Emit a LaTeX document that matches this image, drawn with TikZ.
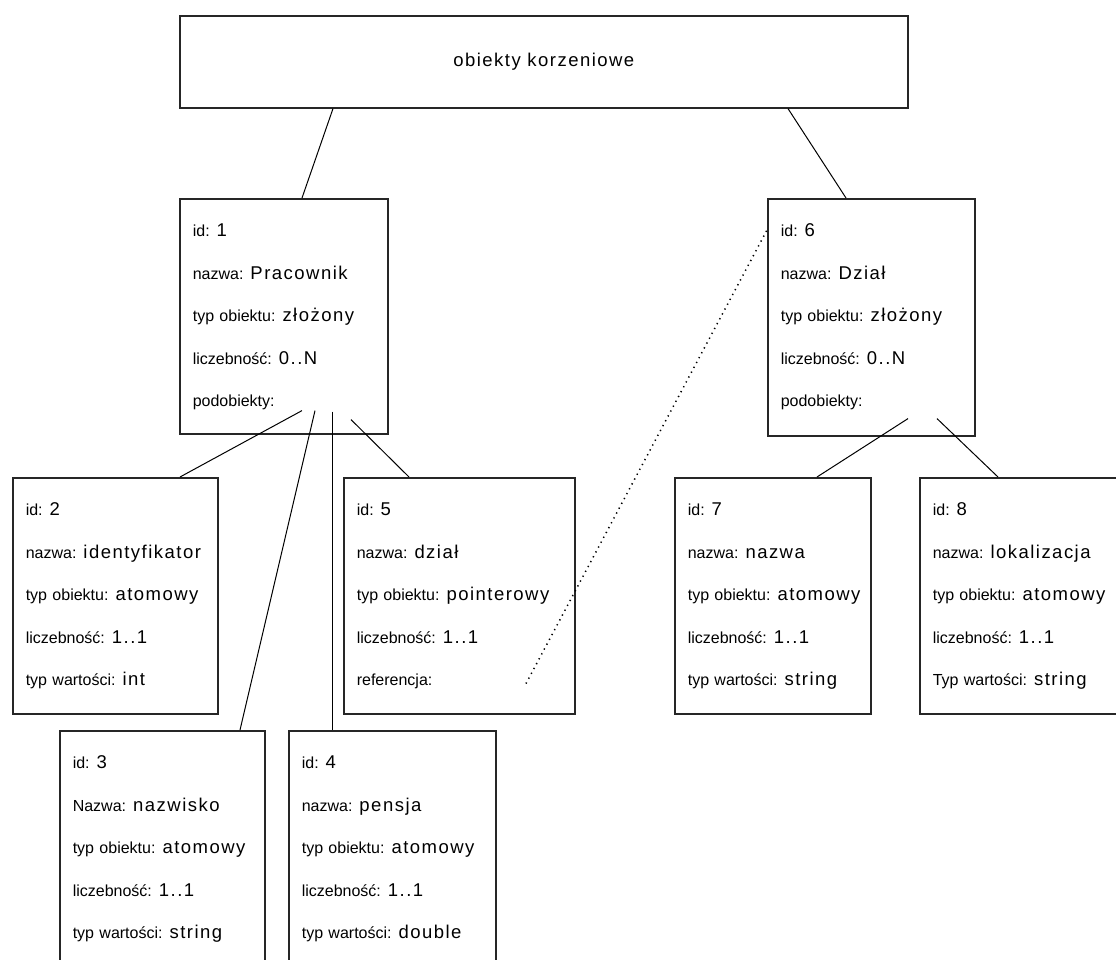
\documentclass[tikz,border=0pt]{standalone}
\usepackage{fontspec}
\setmainfont{Liberation Sans}
\newfontfamily\lblfamily{Liberation Sans}
\newfontfamily\valfamily[LetterSpace=8]{Liberation Sans}
\usetikzlibrary{calc}

\newcommand{\labfont}{\lblfamily\fontsize{16}{42.5}\selectfont}
\newcommand{\valfont}{\valfamily\fontsize{18.5}{42.5}\selectfont}
\newcommand{\field}[2]{\mbox{#1\hspace{7pt}{\valfont #2}}}
\newcommand{\toprow}{\rule{0pt}{38pt}}
\newcommand{\lastrow}[1]{\rule[-#1pt]{0pt}{#1pt}}

\begin{document}
\begin{tikzpicture}[
    x=1pt, y=-1pt,
    obj/.style={draw=black!85, line width=1.6pt, anchor=north west, align=left, inner xsep=13pt, inner ysep=0pt, font=\labfont, text width=#1},
    rootbox/.style={draw=black!85, line width=1.6pt, anchor=north west, minimum width=728pt, minimum height=92pt, font=\valfont},
    link/.style={line width=1pt},
    ref/.style={line width=1.5pt, dash pattern=on 1.3pt off 4.2pt}
]
\fill[white] (0,0) rectangle (1116,960);
\useasboundingbox (0,0) rectangle (1116,960);

% Nodes
\node[rootbox] (root) at (179,15) {obiekty korzeniowe};
\node[obj=182pt] (prac) at (179,198) {\toprow\field{id:}{1}\\ \field{nazwa:}{Pracownik}\\ \field{typ obiektu:}{złożony}\\ \field{liczebność:}{0..N}\\ podobiekty:\lastrow{27}};
\node[obj=181pt] (dzial) at (767,198) {\toprow\field{id:}{6}\\ \field{nazwa:}{Dział}\\ \field{typ obiektu:}{złożony}\\ \field{liczebność:}{0..N}\\ podobiekty:\lastrow{29}};
\node[obj=179pt] (ident) at (12,477) {\toprow\field{id:}{2}\\ \field{nazwa:}{identyfikator}\\ \field{typ obiektu:}{atomowy}\\ \field{liczebność:}{1..1}\\ \field{typ wartości:}{int}\lastrow{28}};
\node[obj=179pt] (nazwisko) at (59,730) {\toprow\field{id:}{3}\\ \field{Nazwa:}{nazwisko}\\ \field{typ obiektu:}{atomowy}\\ \field{liczebność:}{1..1}\\ \field{typ wartości:}{string}\lastrow{52}};
\node[obj=181pt] (pensja) at (288,730) {\toprow\field{id:}{4}\\ \field{nazwa:}{pensja}\\ \field{typ obiektu:}{atomowy}\\ \field{liczebność:}{1..1}\\ \field{typ wartości:}{double}\lastrow{52}};
\node[obj=205pt] (ptr) at (343,477) {\toprow\field{id:}{5}\\ \field{nazwa:}{dział}\\ \field{typ obiektu:}{pointerowy}\\ \field{liczebność:}{1..1}\\ referencja:\lastrow{28}};
\node[obj=170pt] (nazwa) at (674,477) {\toprow\field{id:}{7}\\ \field{nazwa:}{nazwa}\\ \field{typ obiektu:}{atomowy}\\ \field{liczebność:}{1..1}\\ \field{typ wartości:}{string}\lastrow{28}};
\node[obj=184pt] (lokal) at (919,477) {\toprow\field{id:}{8}\\ \field{nazwa:}{lokalizacja}\\ \field{typ obiektu:}{atomowy}\\ \field{liczebność:}{1..1}\\ \field{Typ wartości:}{string}\lastrow{28}};

% Links
\draw[link] ([xshift=154pt]root.south west) -- ([xshift=123pt]prac.north west);
\draw[link] ([xshift=609pt]root.south west) -- ([xshift=79pt]dzial.north west);
\draw[link] ([xshift=123pt,yshift=24pt]prac.south west) -- ([xshift=168pt]ident.north west);
\draw[link] ([xshift=136pt,yshift=24pt]prac.south west) -- ([xshift=181pt]nazwisko.north west);
\draw[link] ([xshift=153pt,yshift=23pt]prac.south west) -- ([xshift=44pt]pensja.north west);
\draw[link] ([xshift=172pt,yshift=15pt]prac.south west) -- ([xshift=66pt]ptr.north west);
\draw[link] ([xshift=141pt,yshift=18pt]dzial.south west) -- ([xshift=143pt]nazwa.north west);
\draw[link] ([xshift=170pt,yshift=18pt]dzial.south west) -- ([xshift=79pt]lokal.north west);
\draw[ref] ([xshift=183pt,yshift=31pt]ptr.south west) -- ([yshift=-32pt]dzial.north west);

\end{tikzpicture}
\end{document}
